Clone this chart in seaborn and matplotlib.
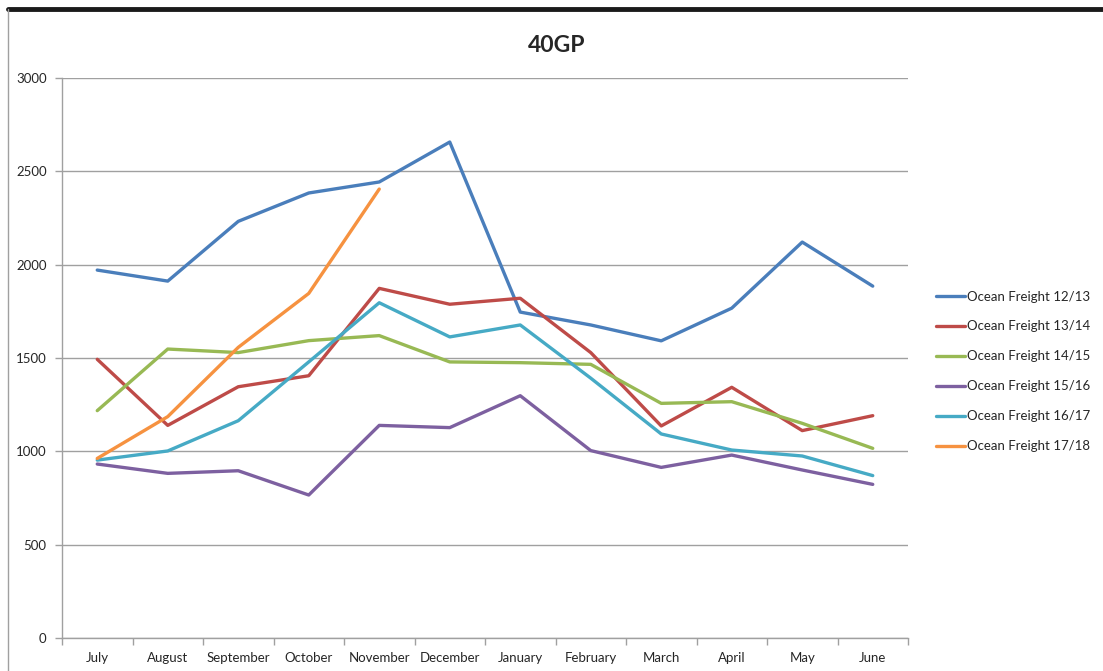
import pandas as pd
import numpy as np
import seaborn as sns
import matplotlib.pyplot as plt
from matplotlib.lines import Line2D
from matplotlib.ticker import FixedLocator

months = ['July', 'August', 'September', 'October', 'November', 'December',
          'January', 'February', 'March', 'April', 'May', 'June']

fy_12_13 = [1971, 1912, 2232, 2384, 2443, 2657, 1746, 1677, 1592, 1767, 2121, 1885]
fy_13_14 = [1493, 1139, 1346, 1405, 1873, 1788, 1820, 1529, 1136, 1343, 1111, 1191]
fy_14_15 = [1218, 1548, 1529, 1593, 1620, 1479, 1475, 1466, 1257, 1266, 1150, 1016]
fy_15_16 = [932, 882, 896, 766, 1139, 1127, 1298, 1004, 914, 980, 900, 823]
fy_16_17 = [953, 1002, 1164, 1479, 1796, 1613, 1677, 1392, 1093, 1007, 975, 870]
fy_17_18 = [962, 1186, 1557, 1846, 2405, None, None, None, None, None, None, None]

series = ['Ocean Freight 12/13', 'Ocean Freight 13/14', 'Ocean Freight 14/15',
          'Ocean Freight 15/16', 'Ocean Freight 16/17', 'Ocean Freight 17/18']
colors = ['#4A7EBB', '#BE4B48', '#98B954', '#7D60A0', '#46AAC5', '#F69240']

rows = []
for name, vals in zip(series, [fy_12_13, fy_13_14, fy_14_15, fy_15_16, fy_16_17, fy_17_18]):
    for m, v in zip(months, vals):
        rows.append({'month': m, 'series': name, 'value': np.nan if v is None else v})
df = pd.DataFrame(rows)

sns.set_style('white')
plt.rcParams['font.family'] = ['Lato', 'DejaVu Sans']

fig = plt.figure(figsize=(11.03, 6.71), dpi=100)
ax = fig.add_axes([62 / 1103, 1 - 638 / 671, (908 - 62) / 1103, (638 - 78) / 671])

sns.lineplot(data=df, x='month', y='value', hue='series', palette=colors,
             sort=False, linewidth=2.4, ax=ax, legend=False)

ax.set_xlim(-0.5, 11.5)
ax.set_ylim(0, 3000)
ax.set_yticks(range(0, 3001, 500))
ax.set_xticks(range(12))
ax.set_xticklabels(months, fontsize=9.5)
ax.xaxis.set_minor_locator(FixedLocator(np.arange(-0.5, 12, 1)))
ax.tick_params(axis='x', which='major', length=0, pad=10)
ax.tick_params(axis='x', which='minor', length=5, color='#A0A0A0', width=1, direction='out', bottom=True)
ax.tick_params(axis='y', length=5, color='#A0A0A0', width=1, direction='out', left=True, labelsize=9.5, pad=6)
ax.yaxis.grid(True, color='#A0A0A0', linewidth=1)
ax.set_axisbelow(True)
for s in ['top', 'right']:
    ax.spines[s].set_visible(False)
for s in ['left', 'bottom']:
    ax.spines[s].set_color('#A0A0A0')
    ax.spines[s].set_linewidth(1)
ax.set_xlabel('')
ax.set_ylabel('')

fig.text(557 / 1103, 1 - 45 / 671, '40GP', fontsize=16.5, fontweight='bold',
         ha='center', va='center')

handles = [Line2D([], [], color=c, linewidth=2.4) for c in colors]
fig.legend(handles, series, loc='upper left', bbox_to_anchor=(925 / 1103, 1 - 280 / 671),
           frameon=False, fontsize=9.5, handlelength=2.25, handletextpad=0.1,
           labelspacing=1.36, borderpad=0.3)

# frame edges of the original screenshot
fig.add_artist(Line2D([8 / 1103, 1], [1 - 9 / 671, 1 - 9 / 671], color='#1a1a1a', linewidth=3.5))
fig.add_artist(Line2D([8 / 1103, 8 / 1103], [0, 1 - 9 / 671], color='#A0A0A0', linewidth=1))

fig.savefig('out.png', dpi=100)
